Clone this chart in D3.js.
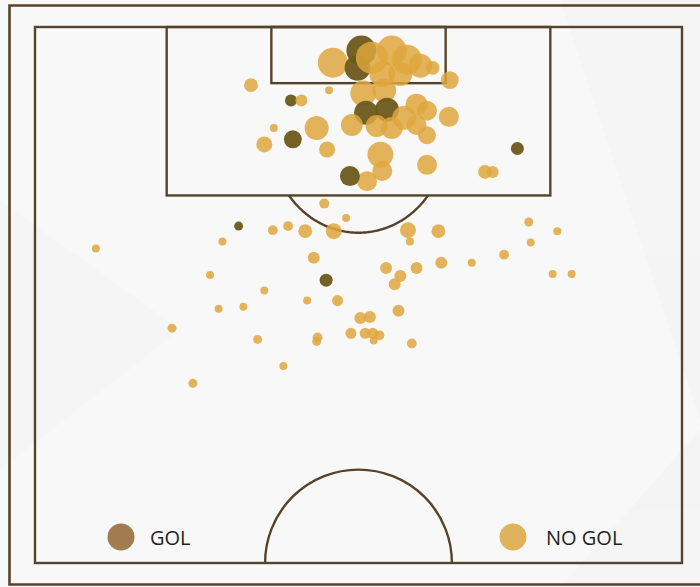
<!DOCTYPE html>
<html>
<head>
<meta charset="utf-8">
<script src="https://cdn.jsdelivr.net/npm/d3@7"></script>
<style>
  html, body { margin: 0; padding: 0; background: #f7f7f7; }
  svg { display: block; }
  .legend-text { font-family: "Open Sans", "Noto Sans", sans-serif; font-size: 20px; fill: #231f1c; }
</style>
</head>
<body>
<svg id="chart" width="700" height="587"></svg>
<script>
// Shot positions in metres: x across the pitch from the left touchline, y from the goal line.
// Shots are listed in drawing order (later ones sit on top).
const shotX = [
  31.3, 34.3, 33.9, 35.4, 37.5, 39.1, 40.5, 36.5, 38.4, 41.8, 43.6,
  34.5, 36.7, 34.8, 37.0, 33.3, 35.9, 37.5, 38.8, 40.1, 41.2, 40.1, 41.2, 43.5,
  22.7, 26.9, 28.0, 30.9, 25.1, 27.1, 29.6, 24.1, 30.7, 34.9, 33.1,
  36.3, 36.5, 41.2, 50.7, 47.3, 48.1,
  30.4, 32.7, 21.4, 25.0, 26.6, 28.4, 31.4, 39.2, 39.4, 42.4,
  51.9, 54.9, 52.1, 19.7, 6.4, 29.3, 49.3, 45.9, 42.7, 40.1,
  36.9, 38.4, 37.8, 30.6, 18.4, 54.4, 56.4, 24.1, 28.6, 31.8,
  19.3, 21.9, 38.2, 34.2, 35.2, 14.4, 23.4, 29.7, 29.6, 33.2,
  34.7, 35.5, 36.2, 35.6, 39.6, 26.1, 16.6
];
const shotY = [
  3.5, 2.3, 4.0, 3.0, 2.3, 3.2, 3.8, 4.6, 4.6, 4.0, 5.2,
  6.5, 6.2, 8.4, 8.1, 9.6, 9.7, 9.9, 8.9, 7.6, 8.2, 9.6, 10.6, 8.8,
  5.7, 7.2, 7.2, 6.2, 9.9, 11.0, 9.9, 11.5, 12.0, 15.1, 14.6,
  12.5, 14.1, 13.5, 11.9, 14.2, 14.2,
  17.3, 18.7, 19.5, 19.9, 19.5, 20.0, 20.0, 19.9, 21.0, 20.0,
  19.1, 20.0, 21.1, 21.0, 21.7, 22.6, 22.3, 23.1, 23.1, 23.6,
  23.6, 24.4, 25.2, 24.8, 24.3, 24.2, 24.2, 25.8, 26.8, 26.8,
  27.6, 27.4, 27.8, 28.5, 28.4, 29.5, 30.6, 30.4, 30.8, 30.0,
  30.0, 30.0, 30.2, 30.7, 31.0, 33.2, 34.9
];
// Expected-goals value of each shot (sets the marker area).
const shotXG = [
  0.56, 0.56, 0.42, 0.64, 0.56, 0.56, 0.36, 0.42, 0.36, 0.12, 0.20,
  0.42, 0.36, 0.36, 0.36, 0.30, 0.30, 0.30, 0.36, 0.30, 0.25, 0.25, 0.20, 0.25,
  0.12, 0.09, 0.09, 0.04, 0.04, 0.20, 0.36, 0.16, 0.16, 0.25, 0.25,
  0.42, 0.25, 0.25, 0.106, 0.12, 0.09,
  0.0625, 0.04, 0.05, 0.06, 0.06, 0.12, 0.16, 0.16, 0.04, 0.12,
  0.05, 0.04, 0.04, 0.04, 0.04, 0.09, 0.06, 0.04, 0.09, 0.09,
  0.09, 0.09, 0.09, 0.106, 0.04, 0.04, 0.04, 0.04, 0.04, 0.076,
  0.04, 0.04, 0.09, 0.09, 0.09, 0.05, 0.05, 0.06, 0.05, 0.076,
  0.076, 0.076, 0.06, 0.04, 0.06, 0.04, 0.05
];
const shotResult = [
  "NO GOL", "GOL", "GOL", "NO GOL", "NO GOL", "NO GOL", "NO GOL", "NO GOL", "NO GOL", "NO GOL", "NO GOL",
  "NO GOL", "NO GOL", "GOL", "GOL", "NO GOL", "NO GOL", "NO GOL", "NO GOL", "NO GOL", "NO GOL", "NO GOL", "NO GOL", "NO GOL",
  "NO GOL", "GOL", "NO GOL", "NO GOL", "NO GOL", "GOL", "NO GOL", "NO GOL", "NO GOL", "NO GOL", "GOL",
  "NO GOL", "NO GOL", "NO GOL", "GOL", "NO GOL", "NO GOL",
  "NO GOL", "NO GOL", "GOL", "NO GOL", "NO GOL", "NO GOL", "NO GOL", "NO GOL", "NO GOL", "NO GOL",
  "NO GOL", "NO GOL", "NO GOL", "NO GOL", "NO GOL", "NO GOL", "NO GOL", "NO GOL", "NO GOL", "NO GOL",
  "NO GOL", "NO GOL", "NO GOL", "GOL", "NO GOL", "NO GOL", "NO GOL", "NO GOL", "NO GOL", "NO GOL",
  "NO GOL", "NO GOL", "NO GOL", "NO GOL", "NO GOL", "NO GOL", "NO GOL", "NO GOL", "NO GOL", "NO GOL",
  "NO GOL", "NO GOL", "NO GOL", "NO GOL", "NO GOL", "NO GOL", "NO GOL"
];
const legendLabels = ["GOL", "NO GOL"];

const svg = d3.select("#chart");
const W = 700, H = 587;
const lineColor = "#57432a";

// Half pitch: 68 m wide, 52.5 m deep
const x = d3.scaleLinear().domain([0, 68]).range([35, 682]);
const y = d3.scaleLinear().domain([0, 52.5]).range([27, 563]);
const r = d3.scaleSqrt().domain([0, 1]).range([0, 20]);
const markColor = d3.scaleOrdinal().domain(legendLabels).range(["#6b5a1c", "#dfa73c"]);
const keyColor = d3.scaleOrdinal().domain(legendLabels).range(["#a07c4e", "#deb35b"]);

// Background with faint diagonal shading
svg.append("rect").attr("width", W).attr("height", H).attr("fill", "#f8f8f8");
const shade = svg.append("g").attr("fill", "#eeeeee").attr("opacity", 0.3);
shade.append("path").attr("d", "M560,0 L700,0 L700,420 Z");
shade.append("path").attr("d", "M0,200 L180,330 L0,470 Z");
shade.append("path").attr("d", "M700,430 L560,587 L700,587 Z");

// Outer frame
svg.append("path")
  .attr("d", "M705,5.5 L9.5,5.5 L9.5,584.5 L705,584.5")
  .attr("fill", "none").attr("stroke", lineColor).attr("stroke-width", 2.6);

const pitch = svg.append("g")
  .attr("fill", "none").attr("stroke", lineColor).attr("stroke-width", 2.4);

pitch.append("rect")
  .attr("x", x(0)).attr("y", y(0))
  .attr("width", x(68) - x(0)).attr("height", y(52.5) - y(0));

// Penalty area and goal area
const boxW = 40.32, sixW = 18.32;
pitch.append("rect")
  .attr("x", x((68 - boxW) / 2)).attr("y", y(0))
  .attr("width", x((68 + boxW) / 2) - x((68 - boxW) / 2)).attr("height", y(16.5) - y(0));
pitch.append("rect")
  .attr("x", x((68 - sixW) / 2)).attr("y", y(0))
  .attr("width", x((68 + sixW) / 2) - x((68 - sixW) / 2)).attr("height", y(5.5) - y(0));

// Penalty arc: the 9.15 m circle round the spot, outside the box, traced in pitch metres
const arcR = 9.15, spot = 11, boxD = 16.5;
const half = Math.acos((boxD - spot) / arcR);
const arcPts = d3.range(-half, half + 1e-9, half / 60)
  .map(t => [x(34 + arcR * Math.sin(t)), y(spot + arcR * Math.cos(t))]);
pitch.append("path").attr("d", d3.line()(arcPts));

// Centre circle half
const rad = y(9.15) - y(0);
pitch.append("path")
  .attr("transform", `translate(${x(34)},${y(52.5)})`)
  .attr("d", d3.arc()({ innerRadius: rad, outerRadius: rad, startAngle: -Math.PI / 2, endAngle: Math.PI / 2 }));

// Shots
const shots = shotX.map((v, i) => ({ x: v, y: shotY[i], xg: shotXG[i], res: shotResult[i] }));

const defs = svg.append("defs");
defs.append("filter").attr("id", "soft")
  .append("feGaussianBlur").attr("stdDeviation", 0.6);

svg.append("g").attr("filter", "url(#soft)")
  .selectAll("circle").data(shots).join("circle")
  .attr("cx", d => x(d.x)).attr("cy", d => y(d.y))
  .attr("r", d => r(d.xg))
  .attr("fill", d => markColor(d.res))
  .attr("fill-opacity", d => d.res === "GOL" ? 0.95 : 0.84);

// Legend
const legendX = d3.scaleOrdinal().domain(legendLabels).range([121, 513]);
const legendTextX = d3.scaleOrdinal().domain(legendLabels).range([150, 546]);
const lg = svg.append("g").selectAll("g").data(legendLabels).join("g");
lg.append("circle")
  .attr("cx", d => legendX(d)).attr("cy", 537)
  .attr("r", 13.5).attr("fill", d => keyColor(d));
lg.append("text").attr("class", "legend-text")
  .attr("x", d => legendTextX(d)).attr("y", 545).text(d => d);
</script>
</body>
</html>
